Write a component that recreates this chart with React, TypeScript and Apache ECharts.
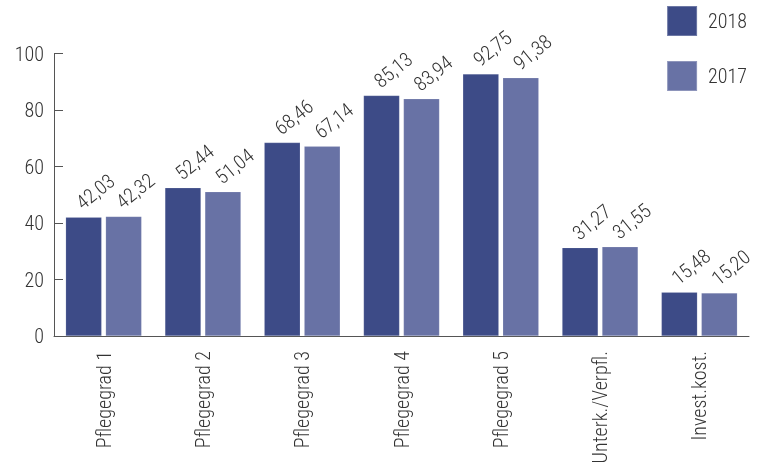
import React, { useEffect, useRef } from "react";
import * as echarts from "echarts";

const categories = ["Pflegegrad 1", "Pflegegrad 2", "Pflegegrad 3", "Pflegegrad 4", "Pflegegrad 5", "Unterk./Verpfl.", "Invest.kost."];
const values2018 = [42.03, 52.44, 68.46, 85.13, 92.75, 31.27, 15.48];
const values2017 = [42.32, 51.04, 67.14, 83.94, 91.38, 31.55, 15.2];
const seriesNames = ["2018", "2017"];
const colors = ["#3d4b87", "#6872a5"];

const FONT = "'Roboto Condensed', 'Liberation Sans Narrow', 'DejaVu Sans Condensed', Roboto, sans-serif";

export default function App() {
  const ref = useRef<HTMLDivElement>(null);
  useEffect(() => {
    if (!ref.current) return;
    const chart = echarts.init(ref.current, null, { renderer: "svg" });
    const fmt = (p: any) => Number(p.value).toFixed(2).replace(".", ",");
    const mk = (name: string, data: number[], color: string) => ({
      name,
      type: "bar",
      data,
      barWidth: 36,
      barGap: "11%",
      itemStyle: { color, borderColor: "rgba(255,255,255,0.25)", borderWidth: 0.5 },
      label: {
        show: true,
        position: "top",
        rotate: 39,
        align: "left",
        verticalAlign: "middle",
        distance: 6,
        offset: [0, -8],
        formatter: fmt,
        fontFamily: FONT,
        fontWeight: 300,
        fontSize: 20,
        color: "#333",
      },
    });
    chart.setOption({
      animation: false,
      textStyle: { fontFamily: FONT },
      grid: { left: 54, right: 19, top: 53.5, bottom: 136, containLabel: false },
      legend: {
        orient: "vertical",
        right: 16,
        top: 0,
        itemWidth: 30,
        itemHeight: 30,
        itemGap: 23,
        icon: "rect",
        textStyle: { fontFamily: FONT, fontWeight: 300, fontSize: 20, color: "#333", padding: [0, 0, 0, 6] },
        data: seriesNames,
      },
      xAxis: {
        type: "category",
        data: categories,
        axisLine: { lineStyle: { color: "#555", width: 1 } },
        axisTick: { inside: true, length: 7, lineStyle: { color: "#555" } },
        axisLabel: {
          rotate: 90,
          interval: 0,
          fontFamily: FONT,
          fontWeight: 300,
          fontSize: 20,
          color: "#333",
          margin: 15,
        },
      },
      yAxis: {
        type: "value",
        min: 0,
        max: 100,
        interval: 20,
        splitLine: { show: false },
        axisLine: { show: true, lineStyle: { color: "#555", width: 1 } },
        axisTick: { show: true, inside: true, length: 9, lineStyle: { color: "#555" } },
        axisLabel: { fontFamily: FONT, fontWeight: 300, fontSize: 20, color: "#333", margin: 10 },
      },
      series: [mk(seriesNames[0], values2018, colors[0]), mk(seriesNames[1], values2017, colors[1])],
    });
    return () => chart.dispose();
  }, []);
  return <div ref={ref} style={{ position: "fixed", left: 0, top: 0, width: 768, height: 472 }} />;
}
